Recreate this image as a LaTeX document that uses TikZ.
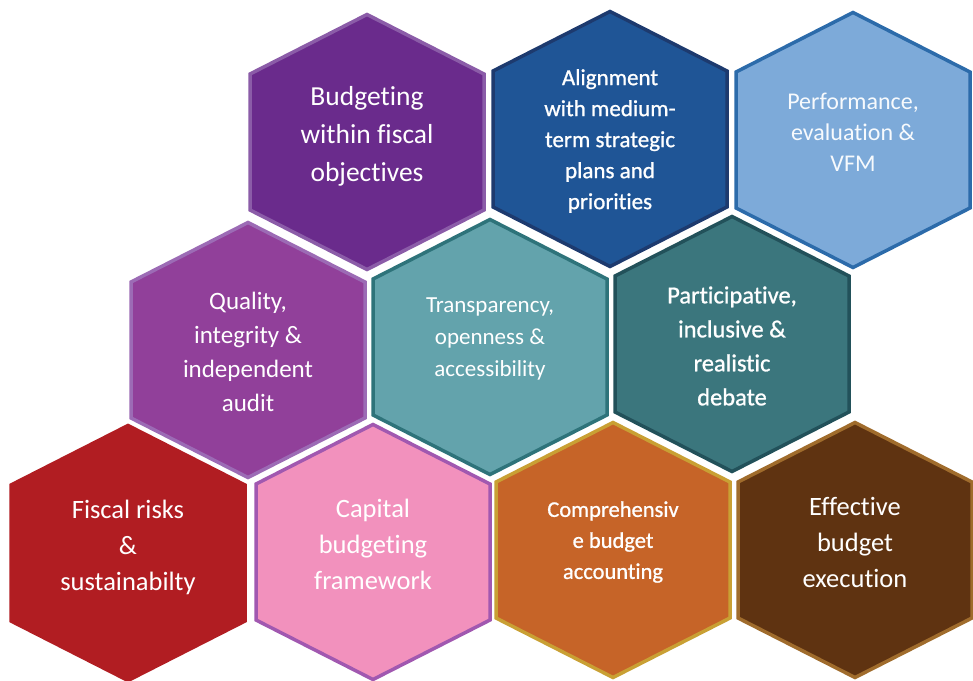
\documentclass[tikz,border=0pt]{standalone}
\usepackage{fontspec}
\setmainfont[Ligatures=NoCommon]{Carlito}
\newfontfamily\semifont[FakeBold=0.9,Ligatures=NoCommon]{Carlito}
\definecolor{cBudF}{HTML}{6A2B8C}\definecolor{cBudD}{HTML}{8B5CA8}
\definecolor{cAliF}{HTML}{1F5596}\definecolor{cAliD}{HTML}{1D3A6E}
\definecolor{cPerF}{HTML}{7DAAD9}\definecolor{cPerD}{HTML}{2C6BAA}
\definecolor{cQuaF}{HTML}{91409A}\definecolor{cQuaD}{HTML}{9C6BB5}
\definecolor{cTraF}{HTML}{63A3AC}\definecolor{cTraD}{HTML}{2E737A}
\definecolor{cParF}{HTML}{3B767D}\definecolor{cParD}{HTML}{22515A}
\definecolor{cFisF}{HTML}{B11D22}\definecolor{cFisD}{HTML}{B11D22}
\definecolor{cCapF}{HTML}{F291BD}\definecolor{cCapD}{HTML}{A158B0}
\definecolor{cComF}{HTML}{C66428}\definecolor{cComD}{HTML}{C9A034}
\definecolor{cEffF}{HTML}{5F3311}\definecolor{cEffD}{HTML}{A06C2C}
\newcommand{\hexcell}[4]{% cx cy fill draw
  \draw[hexstyle, fill=#3, draw=#4]
    (#1,#2-127.5) -- (#1+117,#2-68) -- (#1+117,#2+68) -- (#1,#2+127.5)
    -- (#1-117,#2+68) -- (#1-117,#2-68) -- cycle;}
\tikzset{
  hexstyle/.style={line width=3.5pt, line join=miter},
  lbl/.style={text=white, align=center, inner sep=0pt},
}
\begin{document}
\begin{tikzpicture}[x=1pt,y=-1pt]
\useasboundingbox (0,0) rectangle (973,680);
\fill[white] (0,0) rectangle (973,680);
% row 1
\hexcell{367}{142}{cBudF}{cBudD}
\hexcell{610}{139}{cAliF}{cAliD}
\hexcell{853}{140}{cPerF}{cPerD}
% row 2
\hexcell{248}{350}{cQuaF}{cQuaD}
\hexcell{490}{347}{cTraF}{cTraD}
\hexcell{732}{344}{cParF}{cParD}
% row 3
\hexcell{128}{553}{cFisF}{cFisD}
\hexcell{373}{552}{cCapF}{cCapD}
\hexcell{613}{550}{cComF}{cComD}
\hexcell{855}{550}{cEffF}{cEffD}
% labels
\node[lbl, font=\fontsize{27.5}{38}\selectfont] (bud) at (367,136) {Budgeting\\within fiscal\\objectives};
\node[lbl, font=\semifont\fontsize{23}{31}\selectfont] (ali) at (610,141) {Alignment\\with medium-\\term strategic\\plans and\\priorities};
\node[lbl, text=white!94!cPerF, font=\fontsize{24}{31}\selectfont] (per) at (853,132) {Performance,\\evaluation \&\\VFM};
\node[lbl, font=\fontsize{25}{34}\selectfont] (qua) at (248,352) {Quality,\\integrity \&\\independent\\audit};
\node[lbl, font=\fontsize{23}{32}\selectfont] (tra) at (490,339) {Transparency,\\openness \&\\accessibility};
\node[lbl, font=\semifont\fontsize{24.5}{34}\selectfont] (par) at (732,346) {Participative,\\inclusive \&\\realistic\\debate};
\node[lbl, font=\fontsize{26.5}{36}\selectfont] (fis) at (128,547) {Fiscal risks\\\&\\sustainabilty};
\node[lbl, font=\fontsize{26.5}{36}\selectfont] (cap) at (373,544) {Capital\\budgeting\\framework};
\node[lbl, font=\semifont\fontsize{22.5}{31}\selectfont] (com) at (613,542) {Comprehensiv\\e budget\\accounting};
\node[lbl, font=\fontsize{26.5}{36}\selectfont] (eff) at (855,542) {Effective\\budget\\execution};
\end{tikzpicture}
\end{document}
